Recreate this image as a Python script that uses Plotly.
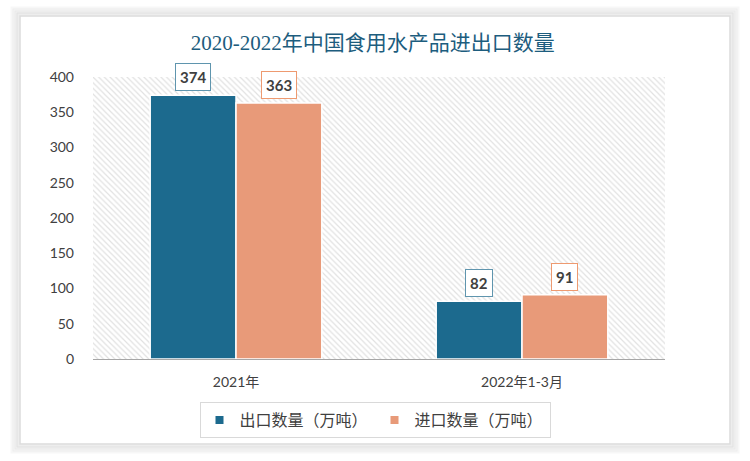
import plotly.graph_objects as go

categories = ["2021年", "2022年1-3月"]
export_vals = [374, 82]
import_vals = [363, 91]
series_names = ["出口数量（万吨）", "进口数量（万吨）"]
y_ticks = [0, 50, 100, 150, 200, 250, 300, 350, 400]
title_text = "2020-2022年中国食用水产品进出口数量"

C_EXP = "#1c6a8e"
C_IMP = "#e89a79"
B_EXP = "#5f95ae"
B_IMP = "#ee9a70"
TXT = "#404040"

W, H = 750, 461
L, R, T, B = 93, 85, 77, 102
pw, ph = W - L - R, H - T - B

def px_x(p):
    return (p - L) / pw

def px_y(p):
    return (H - B - p) / ph

fig = go.Figure()

# hatched plot background on the base axes
fig.add_trace(go.Scatter(
    x=[0, 1, 1, 0, 0], y=[0, 0, 1, 1, 0], xaxis="x", yaxis="y",
    mode="lines", line=dict(width=0), fill="toself",
    fillcolor="white",
    fillpattern=dict(shape="\\", fgcolor="#c4c4c4", bgcolor="white", size=4, solidity=0.3),
    hoverinfo="skip", showlegend=False,
))

for name, vals, col in ((series_names[0], export_vals, C_EXP), (series_names[1], import_vals, C_IMP)):
    fig.add_trace(go.Bar(
        x=categories, y=vals, name=name, xaxis="x2", yaxis="y2", showlegend=False,
        legendgroup=name,
        marker=dict(color=col, line=dict(color="white", width=1.5)),
    ))
# legend entries with small square keys
for name, col in ((series_names[0], C_EXP), (series_names[1], C_IMP)):
    fig.add_trace(go.Scatter(
        x=[None], y=[None], name=name, xaxis="x2", yaxis="y2", mode="markers",
        legendgroup=name,
        marker=dict(symbol="square", size=8, color=col),
    ))

annotations = []
for vals, bc, off in ((export_vals, B_EXP, -0.15), (import_vals, B_IMP, 0.15)):
    for i, v in enumerate(vals):
        annotations.append(dict(
            x=i + off, y=v, xref="x2", yref="y2", text=f"<b>{v}</b>", showarrow=False,
            yanchor="bottom", yshift=4, bgcolor="white", bordercolor=bc, borderwidth=1,
            borderpad=4, font=dict(family="Lato, Noto Sans", size=15, color=TXT),
        ))

shapes = []
# card shadow
for k, col in enumerate(["rgba(0,0,0,0.03)", "rgba(0,0,0,0.04)", "rgba(0,0,0,0.05)", "rgba(0,0,0,0.07)"]):
    d = 8 - 2 * k
    shapes.append(dict(
        type="rect", xref="paper", yref="paper", layer="below",
        x0=px_x(20 - d), x1=px_x(730 + d), y0=px_y(444 + d), y1=px_y(16 - d),
        line=dict(color=col, width=3), fillcolor="rgba(0,0,0,0)",
    ))
shapes.append(dict(
    type="rect", xref="paper", yref="paper", layer="below",
    x0=px_x(20), x1=px_x(730), y0=px_y(444), y1=px_y(16),
    line=dict(color="#dcdcdc", width=1.5), fillcolor="white",
))

fig.update_layout(
    width=W, height=H,
    margin=dict(l=L, r=R, t=T, b=B),
    paper_bgcolor="white", plot_bgcolor="white",
    barmode="group", bargap=0.4, bargroupgap=0,
    title=dict(
        text=title_text, x=0.497, xanchor="center", y=1 - 43 / H, yanchor="middle",
        yref="container",
        font=dict(family="Liberation Serif, Noto Sans CJK SC", size=21, color="#1d5d7e"),
    ),
    xaxis=dict(range=[0, 1], visible=False, fixedrange=True),
    yaxis=dict(range=[0, 1], visible=False, fixedrange=True),
    xaxis2=dict(
        overlaying="x", anchor="y2", type="category", range=[-0.5, 1.5],
        showline=True, linecolor="#a6a6a6", linewidth=1, showgrid=False, ticks="",
        tickfont=dict(family="Lato, Noto Sans CJK SC", size=14, color=TXT),
        ticklabelstandoff=10,
    ),
    yaxis2=dict(
        overlaying="y", anchor="x2", range=[0, 400], tickvals=y_ticks,
        showline=False, showgrid=False, zeroline=False, ticks="",
        tickfont=dict(family="Lato, Noto Sans", size=14, color=TXT),
        ticklabelstandoff=18,
    ),
    legend=dict(
        orientation="h", x=px_x(375), xanchor="center", y=px_y(402), yanchor="top",
        bordercolor="#d9d9d9", borderwidth=1, bgcolor="white",
        font=dict(family="Noto Sans CJK SC", size=16, color=TXT),
        itemwidth=30, entrywidth=130, tracegroupgap=0,
    ),
    annotations=annotations,
    shapes=shapes,
    showlegend=True,
)

fig.write_html("out.html", config={"displayModeBar": False},
               post_script="document.body.style.margin='0px';")
